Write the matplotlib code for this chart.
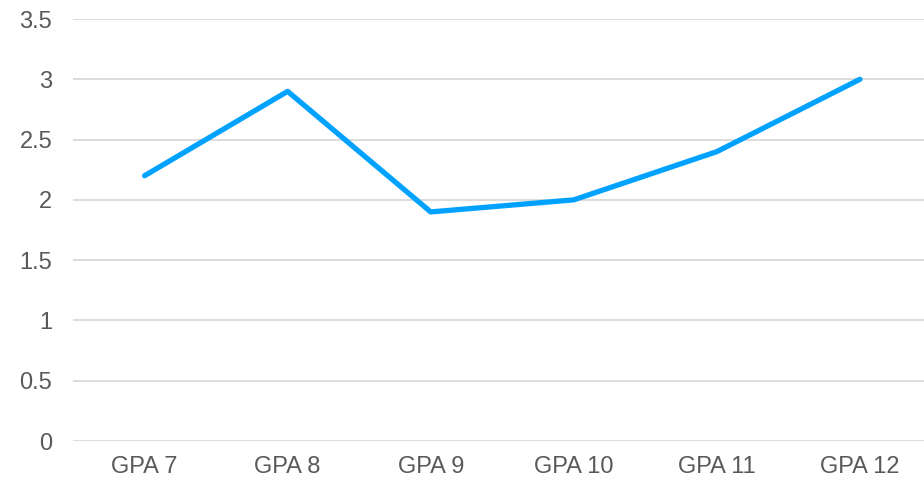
import matplotlib
matplotlib.use("Agg")
import matplotlib.pyplot as plt

categories = ["GPA 7", "GPA 8", "GPA 9", "GPA 10", "GPA 11", "GPA 12"]
values = [2.2, 2.9, 1.9, 2.0, 2.4, 3.0]
yticks = [0, 0.5, 1, 1.5, 2, 2.5, 3, 3.5]
ytick_labels = ["0", "0.5", "1", "1.5", "2", "2.5", "3", "3.5"]

plt.rcParams["font.family"] = ["Liberation Sans", "DejaVu Sans"]

fig = plt.figure(figsize=(9.24, 4.84), dpi=100)
ax = fig.add_axes([73 / 924, 43 / 484, 858.5 / 924, 422 / 484])

x = list(range(len(categories)))
ax.plot(x, values, color="#00A2FF", linewidth=3.8, solid_capstyle="round",
        solid_joinstyle="round", zorder=3)

ax.set_xlim(-0.5, len(categories) - 0.5)
ax.set_ylim(0, 3.5)
ax.set_xticks(x)
ax.set_xticklabels(categories)
ax.set_yticks(yticks)
ax.set_yticklabels(ytick_labels)
ax.grid(axis="y", color="#D9D9D9", linewidth=1.3)
ax.set_axisbelow(True)
for s in ax.spines.values():
    s.set_visible(False)
ax.tick_params(axis="both", length=0, labelsize=17, labelcolor="#595959")
ax.tick_params(axis="y", pad=15)
ax.tick_params(axis="x", pad=11)

fig.savefig("out.png", dpi=100)
